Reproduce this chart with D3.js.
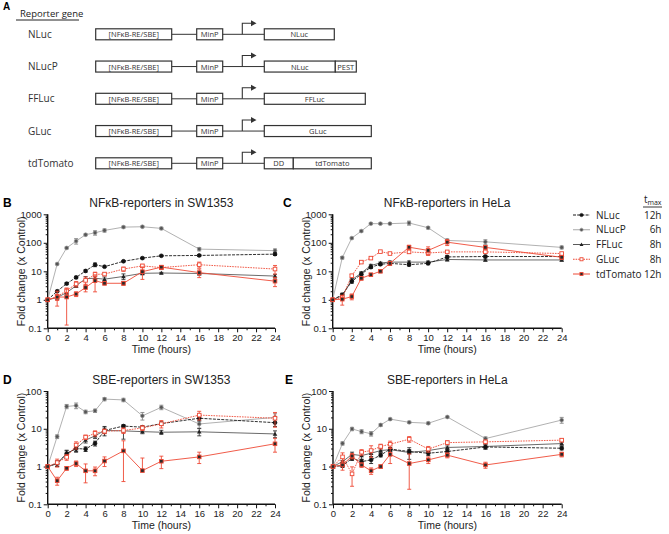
<!DOCTYPE html>
<html><head><meta charset="utf-8">
<script src="https://cdn.jsdelivr.net/npm/d3@7"></script>
<style>
body{margin:0;background:#fff;}
svg{display:block;font-family:"Liberation Sans",Arial,sans-serif;}
</style>
</head><body>
<svg id="c" width="669" height="534"></svg>
<script>
// ---------- DATA ----------
const hours = [0,1,2,3,4,5,6,8,10,12,16,24];
const reporters = ["NLuc","NLucP","FFLuc","GLuc","tdTomato"];
const tmaxLabels = ["12h","6h","8h","8h","12h"];
const xTickValues = [0,2,4,6,8,10,12,14,16,18,20,22,24];
const yTicksNF = [0.1,1,10,100,1000];
const yTicksSBE = [0.1,1,10,100];

// Panel A: construct parts (arbitrary length units)
const promoterLabel = "[NFκB-RE/SBE]";
const minPLabel = "MinP";
const geneParts = [
  [["NLuc",70]],
  [["NLuc",71],["PEST",21]],
  [["FFLuc",101]],
  [["GLuc",107]],
  [["DD",29],["tdTomato",78]]
];

// Panel B: NFκB-reporters in SW1353 (fold change, SD)
const B_NLuc      = [1,2.0,3.7,6.1,10.3,17,14.5,22.5,29,35,36,40];
const B_NLuc_sd   = [0,0.1,0.3,0.6,1,2.5,1,1.5,2,2,3,4];
const B_NLucP     = [1,18,66,115,192,225,272,355,366,320,60,53];
const B_NLucP_sd  = [0,1,5,25,15,40,35,30,25,30,8,8];
const B_FFLuc     = [1,1.2,1.8,3.1,5.5,5.7,5.3,6.6,8.5,8.7,8.4,6.8];
const B_FFLuc_sd  = [0,0.2,0.3,0.4,1,1,1,1.5,1,0.5,1,1];
const B_GLuc      = [1,1.3,2.1,3.6,4.8,7.8,8,12,15.5,13.5,17,12];
const B_GLuc_sd   = [0,0.7,0.5,0.8,1.5,1.5,1,2,2,2,4,4];
const B_tdTomato  = [1,1.25,1.25,1.6,2.7,4.7,3.8,3.8,9.7,14,9,4.5];
const B_tdTomato_sd=[0,0.3,1.12,0.3,0.8,2.8,0.5,0.6,4.5,2,3,1.6];

// Panel C: NFκB-reporters in HeLa
const C_NLuc      = [1,1.5,4.4,8,14,17.6,19,17,19,32,33,33];
const C_NLuc_sd   = [0,0.2,0.6,1,1.5,1.5,1.5,1.5,2,3,3,3];
const C_NLucP     = [1,30,146,258,470,470,470,495,337,121,108,69];
const C_NLucP_sd  = [0,3,10,20,30,30,30,80,30,15,20,8];
const C_FFLuc     = [1,1.4,5,8.7,16,19.6,21,21,21,26,25,25];
const C_FFLuc_sd  = [0,0.2,0.5,1,1.5,1.5,2,2,2,3,2,2];
const C_GLuc      = [1,1.2,7,21,29,49,42,48,44,48,48,42];
const C_GLuc_sd   = [0,0.2,0.8,2,3,3,3,6,5,6,5,4];
const C_tdTomato  = [1,1.05,1.3,5.7,7.6,10,19,70,54,105,69,31];
const C_tdTomato_sd=[0,0.4,0.3,0.8,0.8,1,3,12,18,25,10,5];

// Panel D: SBE-reporters in SW1353
const D_NLuc      = [1,1.2,2.2,3.0,2.9,4.1,9,11.8,11,13.7,19,14.5];
const D_NLuc_sd   = [0,0.2,0.5,0.6,0.4,0.6,2.5,1,1,1.5,3,3];
const D_NLucP     = [1,6.2,39,41,28,30,61,58,22,37,13.4,20];
const D_NLucP_sd  = [0,0.7,5,7,3,3,6,6,5,5,3,5];
const D_FFLuc     = [1,1.2,2.2,3,5,6.5,9,8.8,8.4,8.1,8.3,7.3];
const D_FFLuc_sd  = [0,0.2,0.4,0.5,0.8,1,1.5,3.5,1,1,1.8,1.5];
const D_GLuc      = [1,1.27,1.76,3.7,6,7.6,8.6,9,10.5,13.5,23,19];
const D_GLuc_sd   = [0,0.3,0.3,0.8,0.8,1.2,1.2,1.5,1.5,3,6,8];
const D_tdTomato  = [1,0.42,0.9,1.2,0.77,0.77,1.4,2.6,0.78,1.38,1.8,4.0];
const D_tdTomato_sd=[0,0.1,0.1,0.2,0.4,0.2,0.4,2.2,0.9,0.5,0.6,1.6];

// Panel E: SBE-reporters in HeLa
const E_NLuc      = [1,1.05,1.65,1.35,1.5,2.0,2.9,2.5,2.25,2.5,3.3,3.05];
const E_NLuc_sd   = [0,0.1,0.2,0.2,0.3,0.2,0.3,0.3,0.3,0.3,0.4,0.3];
const E_NLucP     = [1,4.1,9.9,8.4,7.4,12.6,18,14.8,14,20.5,5.5,17];
const E_NLucP_sd  = [0,0.4,1,1,1,1,1,1,1,1,0.6,3];
const E_FFLuc     = [1,1.35,2.1,1.95,2.25,2.65,2.8,2.35,2.65,3.2,3.4,4.05];
const E_FFLuc_sd  = [0,0.1,0.3,0.4,0.4,0.3,0.3,0.8,0.3,0.3,0.5,0.4];
const E_GLuc      = [1,1.8,0.64,2.4,2.65,3.4,3.9,5.3,2.9,4.3,4.5,5];
const E_GLuc_sd   = [0,0.5,0.34,0.4,0.9,0.5,0.8,0.9,0.5,0.5,0.5,0.5];
const E_tdTomato  = [1,1.1,1.9,1.1,0.77,1.0,2.1,1.2,1.5,2.0,1.1,2.1];
const E_tdTomato_sd=[0,0.3,0.3,0.15,0.15,0.1,0.9,0.95,0.3,0.3,0.2,0.3];

// ---------- STYLES ----------
const RED = "#ee4a36";
const styles = {
  NLuc:     {stroke:"#1a1a1a", dash:"3,1.2", marker:"circle",   fill:"#111",  mstroke:"#111", err:"#222"},
  NLucP:    {stroke:"#a8a8a8", dash:null,    marker:"circle",   fill:"#555",  mstroke:"#999", err:"#888"},
  FFLuc:    {stroke:"#5a5a5a", dash:null,    marker:"triangle", fill:"#222",  mstroke:"#222", err:"#333"},
  GLuc:     {stroke:RED,       dash:"1.6,1", marker:"square",   fill:"#fff",  mstroke:RED,    err:RED},
  tdTomato: {stroke:RED,       dash:null,    marker:"square",   fill:"#2a2a2a", mstroke:RED,  err:RED}
};
const drawOrder = ["NLucP","FFLuc","NLuc","GLuc","tdTomato"];

const svg = d3.select("#c");

// ---------- PANEL A ----------
(function(){
  const g = svg.append("g");
  g.append("text").attr("x",3).attr("y",10).attr("font-weight","bold").attr("font-size",10).text("A");
  g.append("text").attr("x",20).attr("y",17).attr("font-family","'Open Sans',sans-serif").attr("font-size",9.5).attr("fill","#222").text("Reporter gene");
  g.append("line").attr("x1",16).attr("x2",79).attr("y1",20).attr("y2",20).attr("stroke","#222").attr("stroke-width",1);
  const rowY = d3.scalePoint().domain(reporters).range([34.3,163.3]);
  const boxH = 11;
  const sk = "#333";
  reporters.forEach((r,i)=>{
    const cy = rowY(r);
    g.append("text").attr("x",28).attr("y",cy+3.5).attr("font-family","'Open Sans',sans-serif").attr("font-size",10).attr("fill","#333").text(r);
    const box = (x0,x1,label)=>{
      g.append("rect").attr("x",x0).attr("y",cy-boxH/2).attr("width",x1-x0).attr("height",boxH)
        .attr("fill","#fff").attr("stroke",sk).attr("stroke-width",1.2);
      g.append("text").attr("x",(x0+x1)/2).attr("y",cy+3).attr("text-anchor","middle")
        .attr("font-family","'Open Sans',sans-serif").attr("font-size",7.5).attr("fill","#333").text(label);
    };
    g.append("line").attr("x1",171.7).attr("x2",264.3).attr("y1",cy).attr("y2",cy).attr("stroke",sk).attr("stroke-width",1);
    box(95.7,171.7,promoterLabel);
    box(196.7,222.7,minPLabel);
    g.append("path").attr("d",`M242.3,${cy} V${cy-11} H252`).attr("fill","none").attr("stroke",sk).attr("stroke-width",1.1);
    g.append("path").attr("d",`M251,${cy-14} L256.5,${cy-11} L251,${cy-8} Z`).attr("fill",sk);
    let x = 264.3;
    geneParts[i].forEach(p=>{ box(x,x+p[1],p[0]); x += p[1]; });
  });
})();

// ---------- CHART PANELS ----------
function panel(cfg){
  const g = svg.append("g");
  const x = d3.scaleLinear().domain([0,24]).range([cfg.x0,cfg.x1]);
  const y = d3.scaleLog().domain([0.1, cfg.ymax]).range([cfg.yBot,cfg.yTop]);
  g.append("text").attr("x",cfg.lx).attr("y",cfg.titleY).attr("font-weight","bold").attr("font-size",12).text(cfg.letter);
  g.append("text").attr("x",(cfg.x0+cfg.x1)/2).attr("y",cfg.titleY).attr("text-anchor","middle").attr("font-size",12).attr("fill","#222").text(cfg.title);
  g.append("text").attr("transform",`translate(${cfg.x0-23},${(cfg.yTop+cfg.yBot)/2}) rotate(-90)`)
    .attr("text-anchor","middle").attr("font-size",10.5).attr("fill","#222").text("Fold change (x Control)");
  g.append("text").attr("x",(cfg.x0+cfg.x1)/2).attr("y",cfg.yBot+25).attr("text-anchor","middle").attr("font-size",10.5).attr("fill","#222").text("Time (hours)");

  const minors = [];
  cfg.yTicks.forEach(d=>{ if(d<cfg.ymax) for(let k=2;k<=9;k++) minors.push(d*k); });
  const yMinor = g.append("g").attr("transform",`translate(${cfg.x0},0)`)
    .call(d3.axisLeft(y).tickValues(minors).tickSize(2).tickFormat(""));
  const yAx = g.append("g").attr("transform",`translate(${cfg.x0},0)`)
    .call(d3.axisLeft(y).tickValues(cfg.yTicks).tickSize(4).tickPadding(2).tickFormat(d=>d3.format("~g")(d)));
  const xMinor = g.append("g").attr("transform",`translate(0,${cfg.yBot})`)
    .call(d3.axisBottom(x).tickValues(d3.range(1,24,2)).tickSize(2).tickFormat(""));
  const xAx = g.append("g").attr("transform",`translate(0,${cfg.yBot})`)
    .call(d3.axisBottom(x).tickValues(xTickValues).tickSize(4).tickPadding(2));
  [yMinor,yAx,xMinor,xAx].forEach(a=>{
    a.select(".domain").attr("stroke","#111").attr("stroke-width",1.4);
    a.selectAll(".tick line").attr("stroke","#111").attr("stroke-width",1);
    a.selectAll(".tick text").attr("font-size",9.5).attr("fill","#222").attr("font-family","'Liberation Sans',Arial,sans-serif");
  });
  yMinor.select(".domain").remove(); xMinor.select(".domain").remove();
  yAx.select(".domain").attr("d",`M0,${cfg.yTop}V${cfg.yBot}`);
  xAx.select(".domain").attr("d",`M${cfg.x0},0H${cfg.x1}`);

  const clampY = v => y(Math.max(0.1, Math.min(cfg.ymax, v)));
  const line = d3.line().x((d,i)=>x(hours[i])).y(d=>clampY(d));

  drawOrder.forEach(name=>{
    const vals = cfg.series[name][0], sds = cfg.series[name][1];
    const st = styles[name];
    const sg = g.append("g");
    sg.append("path").attr("d",line(vals)).attr("fill","none").attr("stroke",st.stroke)
      .attr("stroke-width",0.9).attr("stroke-dasharray",st.dash);
    vals.forEach((v,i)=>{
      const sd = sds[i]; if(!sd) return;
      const cx = x(hours[i]);
      const ends = [clampY(v+sd)];
      // on a log axis, a non-positive lower end is omitted (upper bar only)
      if(v-sd > 0) ends.push(clampY(v-sd));
      const lo = ends.length>1 ? ends[1] : clampY(v);
      sg.append("line").attr("x1",cx).attr("x2",cx).attr("y1",lo).attr("y2",ends[0]).attr("stroke",st.err).attr("stroke-width",0.9);
      ends.forEach(yy=>sg.append("line").attr("x1",cx-2).attr("x2",cx+2).attr("y1",yy).attr("y2",yy).attr("stroke",st.err).attr("stroke-width",0.9));
    });
    vals.forEach((v,i)=>drawMarker(sg, st, x(hours[i]), clampY(v), 1));
  });
}

function drawMarker(g, st, cx, cy, s){
  if(st.marker==="circle"){
    g.append("circle").attr("cx",cx).attr("cy",cy).attr("r",1.9*s).attr("fill",st.fill).attr("stroke",st.mstroke).attr("stroke-width",0.7);
  } else if(st.marker==="square"){
    const h = 1.8*s;
    g.append("rect").attr("x",cx-h).attr("y",cy-h).attr("width",2*h).attr("height",2*h).attr("fill",st.fill).attr("stroke",st.mstroke).attr("stroke-width",0.9);
  } else {
    const h = 2.3*s;
    g.append("path").attr("d",`M${cx},${cy-h}L${cx+h},${cy+h*0.75}L${cx-h},${cy+h*0.75}Z`).attr("fill",st.fill);
  }
}

panel({letter:"B", lx:3, title:"NFκB-reporters in SW1353", titleY:206.5,
  x0:47.7, x1:275, yTop:214.3, yBot:328.3, ymax:1000, yTicks:yTicksNF,
  series:{NLuc:[B_NLuc,B_NLuc_sd],NLucP:[B_NLucP,B_NLucP_sd],FFLuc:[B_FFLuc,B_FFLuc_sd],GLuc:[B_GLuc,B_GLuc_sd],tdTomato:[B_tdTomato,B_tdTomato_sd]}});
panel({letter:"C", lx:283, title:"NFκB-reporters in HeLa", titleY:206.5,
  x0:332.7, x1:561.7, yTop:214.3, yBot:328.3, ymax:1000, yTicks:yTicksNF,
  series:{NLuc:[C_NLuc,C_NLuc_sd],NLucP:[C_NLucP,C_NLucP_sd],FFLuc:[C_FFLuc,C_FFLuc_sd],GLuc:[C_GLuc,C_GLuc_sd],tdTomato:[C_tdTomato,C_tdTomato_sd]}});
panel({letter:"D", lx:3, title:"SBE-reporters in SW1353", titleY:384,
  x0:47.7, x1:275, yTop:391, yBot:504.3, ymax:100, yTicks:yTicksSBE,
  series:{NLuc:[D_NLuc,D_NLuc_sd],NLucP:[D_NLucP,D_NLucP_sd],FFLuc:[D_FFLuc,D_FFLuc_sd],GLuc:[D_GLuc,D_GLuc_sd],tdTomato:[D_tdTomato,D_tdTomato_sd]}});
panel({letter:"E", lx:285, title:"SBE-reporters in HeLa", titleY:384,
  x0:333, x1:561.7, yTop:391, yBot:504.3, ymax:100, yTicks:yTicksSBE,
  series:{NLuc:[E_NLuc,E_NLuc_sd],NLucP:[E_NLucP,E_NLucP_sd],FFLuc:[E_FFLuc,E_FFLuc_sd],GLuc:[E_GLuc,E_GLuc_sd],tdTomato:[E_tdTomato,E_tdTomato_sd]}});

// ---------- LEGEND ----------
(function(){
  const g = svg.append("g").attr("font-family","'Open Sans',sans-serif");
  const ly = d3.scalePoint().domain(reporters).range([215,274]);
  const hdr = g.append("text").attr("x",661.5).attr("y",203).attr("text-anchor","end").attr("font-size",10).attr("fill","#222");
  hdr.append("tspan").text("t");
  hdr.append("tspan").attr("font-size",7).attr("dy",2).text("max");
  g.append("line").attr("x1",643).attr("x2",662).attr("y1",207).attr("y2",207).attr("stroke","#222").attr("stroke-width",0.9);
  reporters.forEach((r,i)=>{
    const yy = ly(r), st = styles[r];
    g.append("line").attr("x1",573).attr("x2",590).attr("y1",yy).attr("y2",yy).attr("stroke",st.stroke).attr("stroke-width",1).attr("stroke-dasharray",st.dash);
    drawMarker(g, st, 581.5, yy, 0.85);
    g.append("text").attr("x",596).attr("y",yy+3.5).attr("font-size",10).attr("fill","#222").text(r);
    g.append("text").attr("x",661.5).attr("y",yy+3.5).attr("text-anchor","end").attr("font-size",10).attr("fill","#222").text(tmaxLabels[i]);
  });
})();
</script>
</body></html>
